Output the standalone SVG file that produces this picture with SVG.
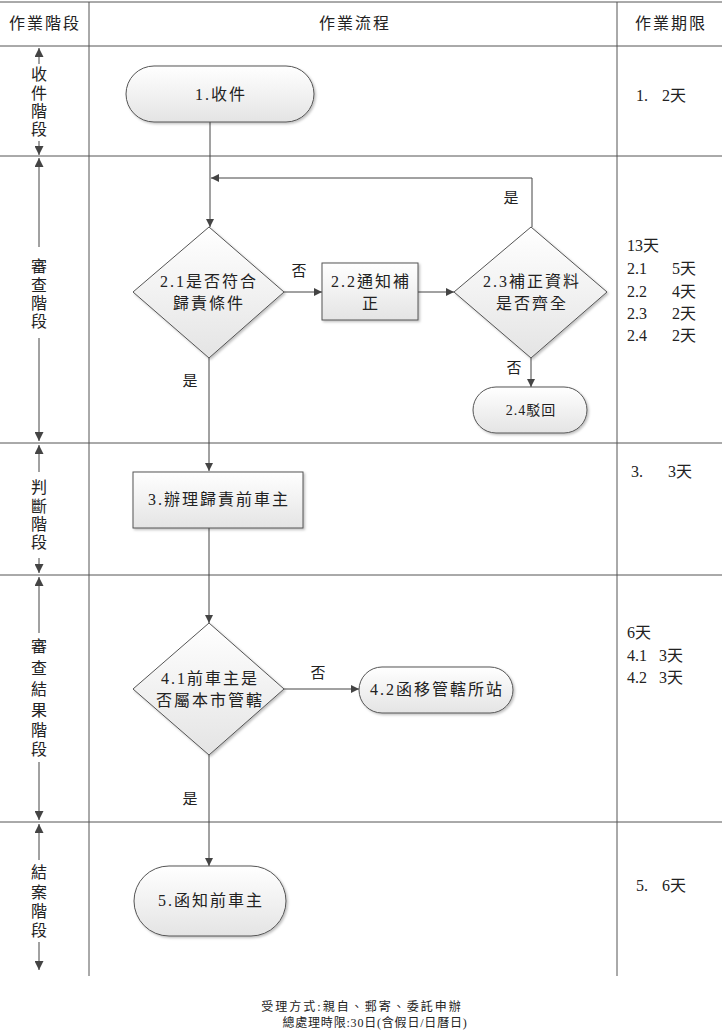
<svg xmlns="http://www.w3.org/2000/svg" width="722" height="1032" viewBox="0 0 722 1032">
<style>
text{font-family:"Liberation Serif","Noto Sans CJK TC",serif;fill:#222;}
.hd{font-size:16px;text-anchor:middle;letter-spacing:2px;}
.nd{font-size:16px;text-anchor:middle;letter-spacing:2px;}
.lb{font-size:15px;text-anchor:middle;}
.ph{font-size:16px;text-anchor:middle;}
.dl{font-size:16px;}
.ft{font-size:12px;text-anchor:middle;letter-spacing:2px;}
.grid line{stroke:#555;stroke-width:1;}
.shape{fill:url(#g);stroke:#555;stroke-width:1;filter:url(#sh);}
.conn path{fill:none;stroke:#444;stroke-width:1;marker-end:url(#ah);}
.pa line{stroke:#444;stroke-width:1;}
</style>
<defs>
<linearGradient id="g" x1="0" y1="0" x2="0" y2="1">
<stop offset="0" stop-color="#ffffff"/>
<stop offset="1" stop-color="#e4e4e4"/>
</linearGradient>
<filter id="sh" x="-10%" y="-10%" width="130%" height="130%">
<feDropShadow dx="1.5" dy="1.5" stdDeviation="1" flood-color="#000" flood-opacity="0.25"/>
</filter>
<marker id="ah" viewBox="0 0 10 10" refX="10" refY="5" markerWidth="8" markerHeight="8" markerUnits="userSpaceOnUse" orient="auto">
<path d="M0,0 L10,5 L0,10 Z" fill="#444"/>
</marker>
<marker id="ahs" viewBox="0 0 10 10" refX="10" refY="5" markerWidth="9" markerHeight="9" markerUnits="userSpaceOnUse" orient="auto-start-reverse">
<path d="M0,0 L10,5 L0,10 Z" fill="#444"/>
</marker>
</defs>
<rect width="722" height="1032" fill="#fff"/>

<g id="grid" class="grid">
<line x1="0" y1="2" x2="722" y2="2"/>
<line x1="0" y1="46" x2="722" y2="46"/>
<line x1="0" y1="156" x2="722" y2="156"/>
<line x1="0" y1="443" x2="722" y2="443"/>
<line x1="0" y1="575" x2="722" y2="575"/>
<line x1="0" y1="822" x2="722" y2="822"/>
<line x1="89" y1="2" x2="89" y2="976"/>
<line x1="617" y1="2" x2="617" y2="976"/>
</g>

<g id="header">
<text class="hd" x="45" y="29">作業階段</text>
<text class="hd" x="355" y="29">作業流程</text>
<text class="hd" x="671" y="29">作業期限</text>
</g>

<g id="phases" class="pa">
<g id="phase1">
<line x1="39" y1="48" x2="39" y2="64" marker-start="url(#ahs)"/>
<line x1="39" y1="141" x2="39" y2="155" marker-end="url(#ahs)"/>
<text class="ph" x="39" y="80">收</text>
<text class="ph" x="39" y="99">件</text>
<text class="ph" x="39" y="117">階</text>
<text class="ph" x="39" y="135">段</text>
</g>
<g id="phase2">
<line x1="39" y1="158" x2="39" y2="247" marker-start="url(#ahs)"/>
<line x1="39" y1="338" x2="39" y2="441" marker-end="url(#ahs)"/>
<text class="ph" x="39" y="272">審</text>
<text class="ph" x="39" y="291">查</text>
<text class="ph" x="39" y="309">階</text>
<text class="ph" x="39" y="327">段</text>
</g>
<g id="phase3">
<line x1="39" y1="445" x2="39" y2="472" marker-start="url(#ahs)"/>
<line x1="39" y1="558" x2="39" y2="573" marker-end="url(#ahs)"/>
<text class="ph" x="39" y="493">判</text>
<text class="ph" x="39" y="512">斷</text>
<text class="ph" x="39" y="530">階</text>
<text class="ph" x="39" y="548">段</text>
</g>
<g id="phase4">
<line x1="39" y1="577" x2="39" y2="633" marker-start="url(#ahs)"/>
<line x1="39" y1="762" x2="39" y2="820" marker-end="url(#ahs)"/>
<text class="ph" x="39" y="652">審</text>
<text class="ph" x="39" y="674">查</text>
<text class="ph" x="39" y="695">結</text>
<text class="ph" x="39" y="716">果</text>
<text class="ph" x="39" y="736">階</text>
<text class="ph" x="39" y="755">段</text>
</g>
<g id="phase5">
<line x1="39" y1="824" x2="39" y2="860" marker-start="url(#ahs)"/>
<line x1="39" y1="942" x2="39" y2="970" marker-end="url(#ahs)"/>
<text class="ph" x="39" y="878">結</text>
<text class="ph" x="39" y="898">案</text>
<text class="ph" x="39" y="917">階</text>
<text class="ph" x="39" y="936">段</text>
</g>
</g>

<g id="connectors" class="conn">
<path d="M210 122 V227"/>
<path d="M532 227 V178 H211"/>
<path d="M284 292 H322"/>
<path d="M418 292 H454"/>
<path d="M531 358 V387"/>
<path d="M209 358 V471"/>
<path d="M209 528 V623"/>
<path d="M284 689 H359"/>
<path d="M209 755 V866"/>
</g>

<g id="labels">
<text class="lb" x="299" y="276">否</text>
<text class="lb" x="511" y="203">是</text>
<text class="lb" x="514" y="373">否</text>
<text class="lb" x="190" y="386">是</text>
<text class="lb" x="318" y="678">否</text>
<text class="lb" x="190" y="804">是</text>
</g>

<g id="n1">
<rect class="shape" x="126" y="66" width="188" height="56" rx="28" ry="28"/>
<text class="nd" x="221" y="100">1.收件</text>
</g>
<g id="n21">
<polygon class="shape" points="209,227 284,292 209,358 133,292"/>
<text class="nd" x="209" y="287">2.1是否符合</text>
<text class="nd" x="209" y="309">歸責條件</text>
</g>
<g id="n22">
<rect class="shape" x="322" y="263" width="96" height="57"/>
<text class="nd" x="371" y="287">2.2通知補</text>
<text class="nd" x="371" y="309">正</text>
</g>
<g id="n23">
<polygon class="shape" points="531,227 607,292 531,358 454,292"/>
<text class="nd" x="532" y="287">2.3補正資料</text>
<text class="nd" x="532" y="309">是否齊全</text>
</g>
<g id="n24">
<rect class="shape" x="473" y="387" width="114" height="46" rx="23" ry="23"/>
<text class="nd" x="531" y="415" style="font-size:14px;letter-spacing:1px">2.4駁回</text>
</g>
<g id="n3">
<rect class="shape" x="133" y="472" width="170" height="56"/>
<text class="nd" x="219" y="505">3.辦理歸責前車主</text>
</g>
<g id="n41">
<polygon class="shape" points="209,623 284,689 209,755 133,689"/>
<text class="nd" x="210" y="684">4.1前車主是</text>
<text class="nd" x="210" y="706">否屬本市管轄</text>
</g>
<g id="n42">
<rect class="shape" x="359" y="667" width="154" height="46" rx="23" ry="23"/>
<text class="nd" x="437" y="695">4.2函移管轄所站</text>
</g>
<g id="n5">
<rect class="shape" x="134" y="866" width="152" height="70" rx="35" ry="35"/>
<text class="nd" x="211" y="906">5.函知前車主</text>
</g>

<g id="deadlines">
<text class="dl" x="636" y="101">1.<tspan x="662">2天</tspan></text>
<text class="dl" x="627" y="251">13天</text>
<text class="dl" x="627" y="274">2.1<tspan x="672">5天</tspan></text>
<text class="dl" x="627" y="297">2.2<tspan x="672">4天</tspan></text>
<text class="dl" x="627" y="319">2.3<tspan x="672">2天</tspan></text>
<text class="dl" x="627" y="341">2.4<tspan x="672">2天</tspan></text>
<text class="dl" x="631" y="477">3.<tspan x="668">3天</tspan></text>
<text class="dl" x="627" y="638">6天</text>
<text class="dl" x="627" y="661">4.1<tspan x="659">3天</tspan></text>
<text class="dl" x="627" y="683">4.2<tspan x="659">3天</tspan></text>
<text class="dl" x="636" y="891">5.<tspan x="662">6天</tspan></text>
</g>

<g id="footer">
<text class="ft" x="362" y="1011">受理方式:親自、郵寄、委託申辦</text>
<text class="ft" x="375" y="1027" style="letter-spacing:0.8px">總處理時限:30日(含假日/日曆日)</text>
</g>
</svg>
